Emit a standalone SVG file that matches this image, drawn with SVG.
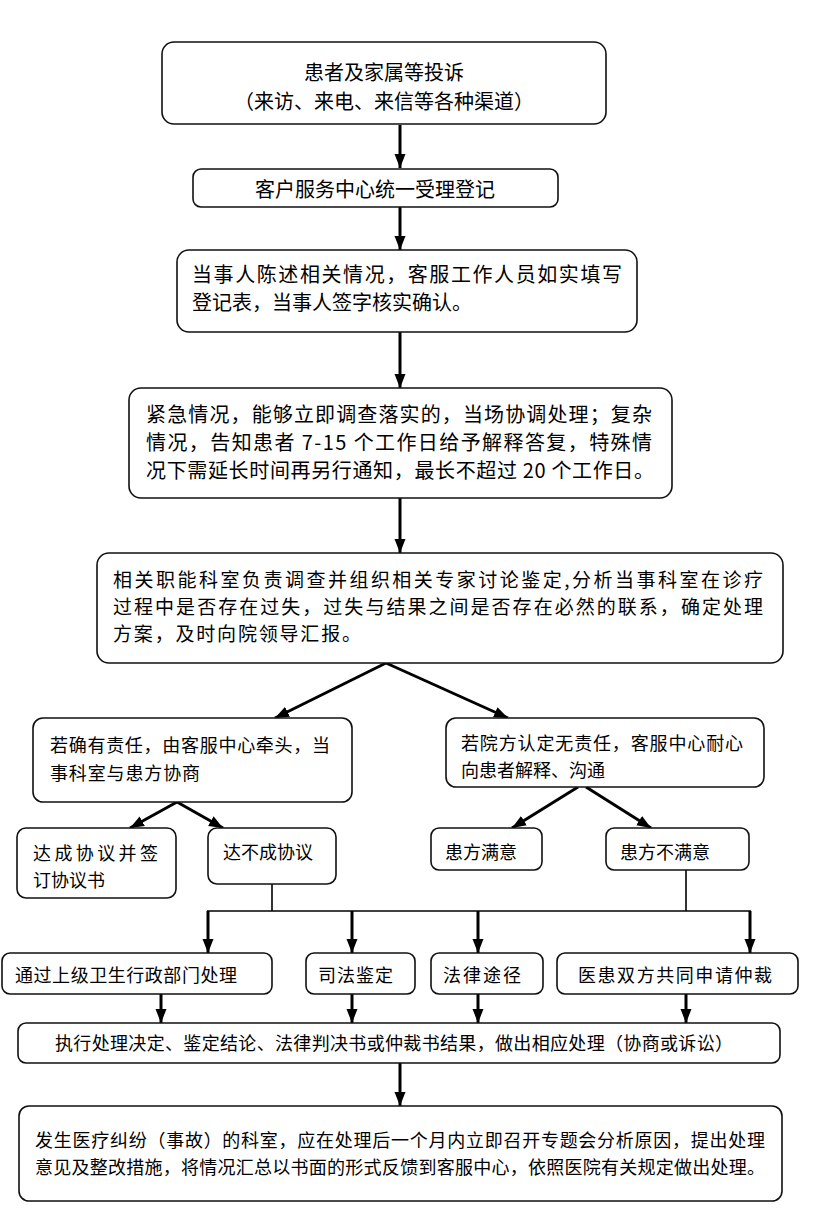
<svg xmlns="http://www.w3.org/2000/svg" width="827" height="1215" viewBox="0 0 827 1215">
<style>
.box{fill:#fff;stroke:#111;stroke-width:1.6}
.t{font-family:"Noto Sans CJK SC","Noto Sans CJK JP",sans-serif;fill:#000}
.t20{font-size:20px}
.t19{font-size:19px}
.t18{font-size:18px}
.arr{stroke:#000;stroke-width:3;fill:none;marker-end:url(#ah)}
.ln{stroke:#000;stroke-width:1.6;fill:none}
</style>
<defs>
<marker id="ah" markerUnits="userSpaceOnUse" markerWidth="14" markerHeight="14" viewBox="0 0 14 14" refX="14" refY="7" orient="auto">
<path d="M0,1.5 L14,7 L0,12.5 Z" fill="#000"/>
</marker>
</defs>
<rect width="827" height="1215" fill="#fff"/>
<g id="connectors">
<line class="arr" x1="400" y1="125" x2="400" y2="168"/>
<line class="arr" x1="400" y1="207" x2="400" y2="250"/>
<line class="arr" x1="400" y1="332" x2="400" y2="388"/>
<line class="arr" x1="400" y1="498" x2="400" y2="553"/>
<line class="arr" x1="386" y1="663" x2="275" y2="718"/>
<line class="arr" x1="386" y1="663" x2="508" y2="718"/>
<line class="arr" x1="177" y1="802" x2="130" y2="828"/>
<line class="arr" x1="177" y1="802" x2="223" y2="828"/>
<line class="arr" x1="578" y1="787" x2="512" y2="828"/>
<line class="arr" x1="586" y1="787" x2="651" y2="828"/>
<line class="ln" x1="272" y1="884" x2="272" y2="911"/>
<line class="ln" x1="686" y1="870" x2="686" y2="911"/>
<line class="ln" x1="207" y1="911" x2="751" y2="911"/>
<line class="arr" x1="208" y1="911" x2="208" y2="953"/>
<line class="arr" x1="352" y1="911" x2="352" y2="953"/>
<line class="arr" x1="478" y1="911" x2="478" y2="953"/>
<line class="arr" x1="750" y1="911" x2="750" y2="953"/>
<line class="arr" x1="161" y1="994" x2="161" y2="1023"/>
<line class="arr" x1="352" y1="994" x2="352" y2="1023"/>
<line class="arr" x1="478" y1="994" x2="478" y2="1023"/>
<line class="arr" x1="686" y1="994" x2="686" y2="1023"/>
<line class="arr" x1="400" y1="1063" x2="400" y2="1106"/>
</g>
<g id="n1"><rect class="box" x="162" y="42" width="444" height="82" rx="12"/>
<text class="t t20" x="384" y="80" text-anchor="middle">患者及家属等投诉</text>
<text class="t t20" x="384" y="109" text-anchor="middle">（来访、来电、来信等各种渠道）</text></g>
<g id="n2"><rect class="box" x="193" y="169" width="365" height="38" rx="8"/>
<text class="t t20" x="375" y="197" text-anchor="middle">客户服务中心统一受理登记</text></g>
<g id="n3"><rect class="box" x="177" y="250" width="460" height="82" rx="12"/>
<text class="t t20" x="192" y="282" textLength="430">当事人陈述相关情况，客服工作人员如实填写</text>
<text class="t t20" x="192" y="310">登记表，当事人签字核实确认。</text></g>
<g id="n4"><rect class="box" x="129" y="388" width="543" height="110" rx="12"/>
<text class="t t20" x="146" y="422" textLength="506">紧急情况，能够立即调查落实的，当场协调处理；复杂</text>
<text class="t t20" x="146" y="450" textLength="506">情况，告知患者 7-15 个工作日给予解释答复，特殊情</text>
<text class="t t20" x="146" y="478" textLength="508">况下需延长时间再另行通知，最长不超过 20 个工作日。</text></g>
<g id="n5"><rect class="box" x="97" y="553" width="686" height="110" rx="12"/>
<text class="t t19" x="113" y="587" textLength="650">相关职能科室负责调查并组织相关专家讨论鉴定,分析当事科室在诊疗</text>
<text class="t t19" x="113" y="614" textLength="650">过程中是否存在过失，过失与结果之间是否存在必然的联系，确定处理</text>
<text class="t t19" x="113" y="641" textLength="248">方案，及时向院领导汇报。</text></g>
<g id="n6"><rect class="box" x="33" y="718" width="319" height="84" rx="10"/>
<text class="t t18" x="50" y="752" textLength="280">若确有责任，由客服中心牵头，当</text>
<text class="t t18" x="50" y="780" textLength="150">事科室与患方协商</text></g>
<g id="n7"><rect class="box" x="446" y="718" width="318" height="69" rx="10"/>
<text class="t t18" x="461" y="750" textLength="282">若院方认定无责任，客服中心耐心</text>
<text class="t t18" x="461" y="777">向患者解释、沟通</text></g>
<g id="n8"><rect class="box" x="17" y="828" width="159" height="70" rx="9"/>
<text class="t t18" x="33" y="860" textLength="125">达成协议并签</text>
<text class="t t18" x="33" y="887">订协议书</text></g>
<g id="n9"><rect class="box" x="208" y="828" width="128" height="56" rx="9"/>
<text class="t t18" x="223" y="859">达不成协议</text></g>
<g id="n10"><rect class="box" x="431" y="828" width="111" height="42" rx="8"/>
<text class="t t18" x="445" y="859">患方满意</text></g>
<g id="n11"><rect class="box" x="606" y="828" width="143" height="42" rx="8"/>
<text class="t t18" x="620" y="859">患方不满意</text></g>
<g id="n12"><rect class="box" x="2" y="953" width="270" height="41" rx="8"/>
<text class="t t18" x="15" y="982" textLength="222">通过上级卫生行政部门处理</text></g>
<g id="n13"><rect class="box" x="306" y="953" width="109" height="41" rx="8"/>
<text class="t t18" x="318" y="982" textLength="75">司法鉴定</text></g>
<g id="n14"><rect class="box" x="431" y="953" width="112" height="41" rx="8"/>
<text class="t t18" x="443" y="982" textLength="78">法律途径</text></g>
<g id="n15"><rect class="box" x="557" y="953" width="241" height="41" rx="8"/>
<text class="t t18" x="578" y="982" textLength="194">医患双方共同申请仲裁</text></g>
<g id="n16"><rect class="box" x="18" y="1023" width="762" height="40" rx="8"/>
<text class="t t18" x="55" y="1050" textLength="678">执行处理决定、鉴定结论、法律判决书或仲裁书结果，做出相应处理（协商或诉讼）</text></g>
<g id="n17"><rect class="box" x="19" y="1106" width="763" height="95" rx="10"/>
<text class="t t18" x="35" y="1147" textLength="730">发生医疗纠纷（事故）的科室，应在处理后一个月内立即召开专题会分析原因，提出处理</text>
<text class="t t18" x="35" y="1174" textLength="730">意见及整改措施，将情况汇总以书面的形式反馈到客服中心，依照医院有关规定做出处理。</text></g>
</svg>
